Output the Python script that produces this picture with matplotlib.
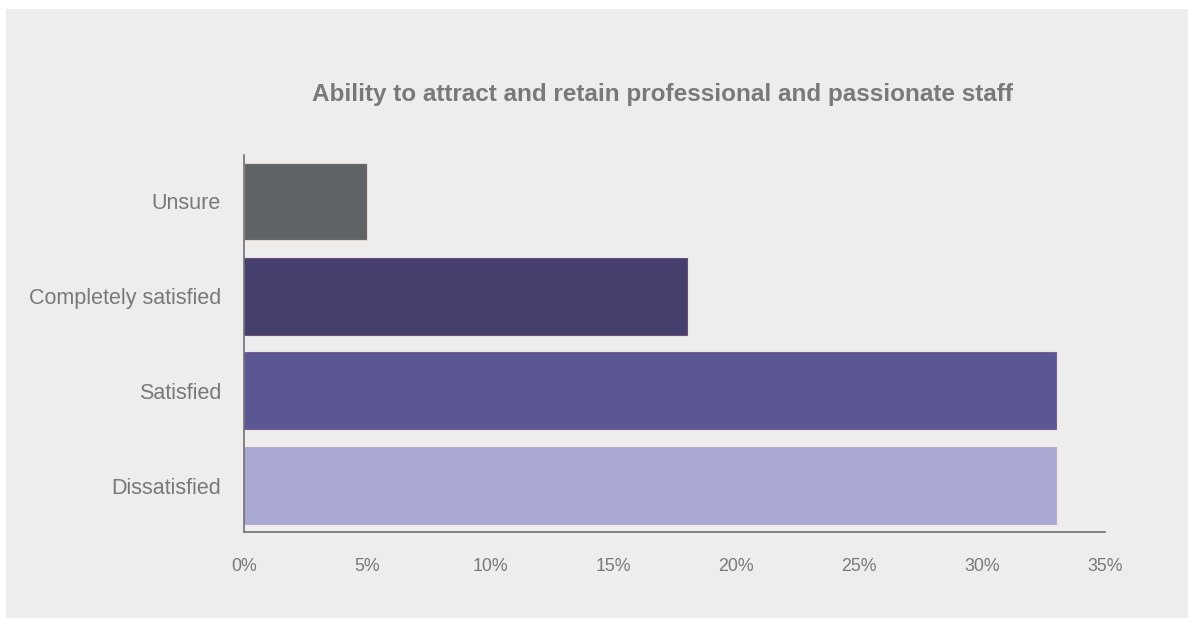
import matplotlib.pyplot as plt
from matplotlib.patches import Rectangle
from matplotlib.ticker import FuncFormatter

# survey responses, bottom to top
categories = ["Dissatisfied", "Satisfied", "Completely satisfied", "Unsure"]
shares = [33, 33, 18, 5]
colors = ["#a8a8d2", "#5a5794", "#453f6e", "#606366"]
edge_colors = ["#c0a8c8", "#7a5f90", "#6a4f78", "#e8d8d0"]
xticks = [0, 5, 10, 15, 20, 25, 30, 35]

title = "Ability to attract and retain professional and passionate staff"
text_color = "#77797b"
panel_color = "#ededed"

plt.rcParams["font.family"] = ["Liberation Sans", "DejaVu Sans"]

fig = plt.figure(figsize=(11.88, 6.18), dpi=100, facecolor="white")
# grey backdrop panel, kept behind the axes
fig.patches.append(Rectangle((6 / 1188, 0), 1, 1 - 9 / 618, transform=fig.transFigure,
                             facecolor=panel_color, edgecolor="none", zorder=-10))

ax = fig.add_axes([244 / 1188, 1 - 532 / 618, (1105 - 244) / 1188, (532 - 155) / 618])
ax.set_facecolor("none")

ax.barh(range(len(categories)), shares, height=0.81, color=colors,
        edgecolor=edge_colors, linewidth=0.8, zorder=2)

ax.set_xlim(0, 35)
ax.set_ylim(-0.49, 3.49)
ax.set_xticks(xticks)
ax.xaxis.set_major_formatter(FuncFormatter(lambda v, _: f"{v:.0f}%"))
ax.set_yticks(range(len(categories)))
ax.set_yticklabels(categories)

for side in ("top", "right"):
    ax.spines[side].set_visible(False)
for side in ("left", "bottom"):
    ax.spines[side].set_color("#6f7173")
    ax.spines[side].set_linewidth(1.2)

ax.tick_params(axis="x", length=0, pad=19, labelsize=12.8, labelcolor=text_color)
ax.tick_params(axis="y", length=0, pad=16.5, labelsize=15.5, labelcolor=text_color)

fig.text(662 / 1188, 1 - 95 / 618, title, ha="center", va="center",
         fontsize=17.5, fontweight="bold", color=text_color)

fig.savefig("out.png", dpi=100, facecolor=fig.get_facecolor())
